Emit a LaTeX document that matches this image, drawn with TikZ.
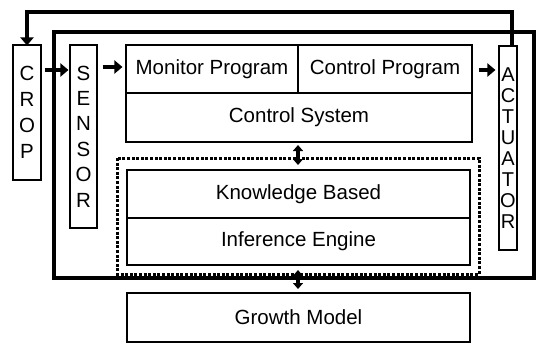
\documentclass[tikz,border=0pt]{standalone}
\usepackage{fontspec}
\setmainfont{Liberation Sans}
\usetikzlibrary{arrows.meta}

\begin{document}
\begin{tikzpicture}[x=1pt,y=-1pt,
  box/.style={draw, line width=1.1pt, inner sep=0pt, font=\fontsize{20.5}{24}\selectfont},
  vbox/.style={draw, line width=1.1pt, inner sep=0pt, align=center},
  arr/.style={line width=4.5pt, -{Triangle[length=8pt,width=13pt]}},
  dblarr/.style={line width=3.5pt, {Triangle[length=6pt,width=10pt]}-{Triangle[length=6pt,width=10pt]}},
  frame/.style={line width=3.5pt},
  dotbox/.style={line width=3pt, dash pattern=on 3pt off 1.6pt}]
\useasboundingbox (0,0) rectangle (536,343);

% outer controller frame
\draw[frame] (54,32) rectangle (534,278);

% vertical blocks
\node[vbox, minimum width=28pt, minimum height=135pt,
      font=\fontsize{20.5}{26}\selectfont] (crop) at (27,112.5) {C\\R\\O\\P};
\node[vbox, minimum width=27pt, minimum height=183pt,
      font=\fontsize{20.5}{25.4}\selectfont] (sens) at (83.5,136.5) {S\\E\\N\\S\\O\\R};
\node[vbox, minimum width=18pt, minimum height=204pt,
      font=\fontsize{20}{20.9}\selectfont] (act) at (508,148) {A\\C\\T\\U\\A\\T\\O\\R};

% control system blocks
\node[box, minimum width=172pt, minimum height=48pt] (mon) at (212,69) {Monitor Program};
\node[box, minimum width=174pt, minimum height=48pt] (ctl) at (385,69) {Control Program};
\node[box, minimum width=346pt, minimum height=49pt] (sys) at (299,117.5) {Control System};

% expert system
\draw[dotbox] (117,158) rectangle (479,274);
\node[box, minimum width=343pt, minimum height=48pt] (kb) at (298.5,194) {Knowledge Based};
\node[box, minimum width=343pt, minimum height=47pt] (ie) at (298.5,241.5) {Inference Engine};

% growth model
\node[box, minimum width=343pt, minimum height=49pt] (gm) at (298.5,317.5) {Growth Model};

% signal flow
\coordinate (rowa) at (0,70);
\coordinate (rowb) at (0,67);
\draw[arr] ([xshift=3pt]crop.east |- rowa) -- ([xshift=-1pt]sens.west |- rowa);
\draw[arr] ([xshift=5pt]sens.east |- rowb) -- ([xshift=-3pt]mon.west |- rowb);
\draw[arr] ([xshift=6pt]ctl.east |- rowa) -- ([xshift=-3pt]act.west |- rowa);

% feedback from actuator to crop
\coordinate (top) at (0,12);
\coordinate (fb) at ([xshift=4pt]act.north);
\draw[arr, line width=3.5pt] (fb) -- (fb |- top) -| ([yshift=-1pt]crop.north);

% links between layers
\draw[dblarr] (298,145) -- (298,165);
\draw[dblarr] (298,270) -- (298,289);
\end{tikzpicture}
\end{document}
